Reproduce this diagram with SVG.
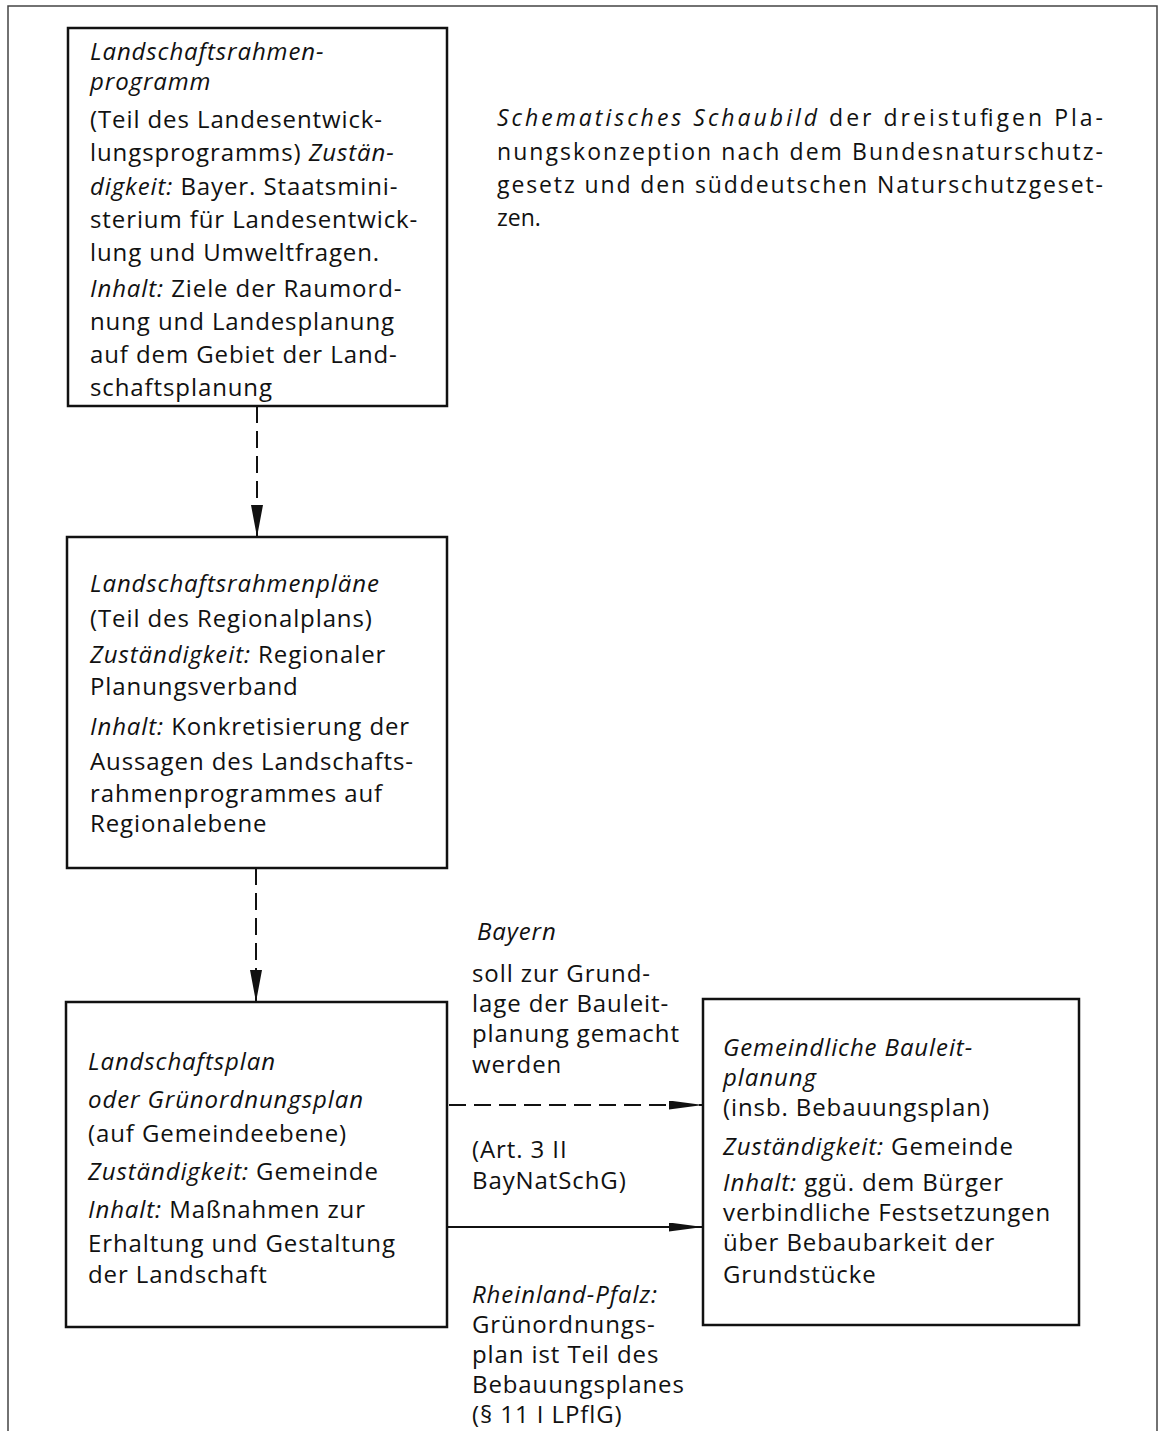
<svg xmlns="http://www.w3.org/2000/svg" width="1167" height="1431" viewBox="0 0 1167 1431">
<style>
.t{font-family:"Open Sans","Liberation Sans",sans-serif;font-size:24px;font-weight:500;letter-spacing:0.9px;fill:#111}
.i{font-style:italic}
.c{font-family:"Open Sans","Liberation Sans",sans-serif;font-size:23px;font-weight:500;fill:#111}
.box{fill:#fff;stroke:#111;stroke-width:2.5}
.frame{fill:none;stroke:#444;stroke-width:1.5}
.dash{fill:none;stroke:#111;stroke-width:2;stroke-dasharray:17 8}
.solid{fill:none;stroke:#111;stroke-width:2}
</style>
<defs>
<marker id="av" viewBox="0 0 32 12" refX="32" refY="6" markerWidth="32" markerHeight="12" markerUnits="userSpaceOnUse" orient="auto">
<path d="M0,0 L32,6 L0,12 z" fill="#111"/>
</marker>
<marker id="ah" viewBox="0 0 34 9" refX="34" refY="4.5" markerWidth="34" markerHeight="9" markerUnits="userSpaceOnUse" orient="auto">
<path d="M0,0 L34,4.5 L0,9 z" fill="#111"/>
</marker>
</defs>
<rect width="1167" height="1431" fill="#fff"/>
<path class="frame" d="M8,1431 V6 H1157 V1431"/>

<g id="connectors">
<path class="dash" d="M257,406 V537" marker-end="url(#av)"/>
<path class="dash" d="M256,868 V1002" marker-end="url(#av)"/>
<path class="dash" d="M449,1105 H703" marker-end="url(#ah)"/>
<path class="solid" d="M447,1227 H703" marker-end="url(#ah)"/>
</g>

<g id="caption">
<text class="c" x="497" y="126" textLength="606" lengthAdjust="spacing"><tspan class="i">Schematisches Schaubild</tspan> der dreistufigen Pla-</text>
<text class="c" x="497" y="160" textLength="606" lengthAdjust="spacing">nungskonzeption nach dem Bundesnaturschutz-</text>
<text class="c" x="497" y="193" textLength="606" lengthAdjust="spacing">gesetz und den süddeutschen Naturschutzgeset-</text>
<text class="c" x="497" y="226">zen.</text>
</g>

<g id="node-landschaftsrahmenprogramm">
<rect class="box" x="68" y="28" width="379" height="378"/>
<text class="t i" x="90" y="60">Landschaftsrahmen-</text>
<text class="t i" x="90" y="90">programm</text>
<text class="t" x="90" y="128">(Teil des Landesentwick-</text>
<text class="t" x="90" y="161">lungsprogramms) <tspan class="i">Zustän-</tspan></text>
<text class="t" x="90" y="195"><tspan class="i">digkeit:</tspan> Bayer. Staatsmini-</text>
<text class="t" x="90" y="228">sterium für Landesentwick-</text>
<text class="t" x="90" y="261">lung und Umweltfragen.</text>
<text class="t" x="90" y="297"><tspan class="i">Inhalt:</tspan> Ziele der Raumord-</text>
<text class="t" x="90" y="330">nung und Landesplanung</text>
<text class="t" x="90" y="363">auf dem Gebiet der Land-</text>
<text class="t" x="90" y="396">schaftsplanung</text>
</g>

<g id="node-landschaftsrahmenplaene">
<rect class="box" x="67" y="537" width="380" height="331"/>
<text class="t i" x="90" y="592">Landschaftsrahmenpläne</text>
<text class="t" x="90" y="627">(Teil des Regionalplans)</text>
<text class="t" x="90" y="663"><tspan class="i">Zuständigkeit:</tspan> Regionaler</text>
<text class="t" x="90" y="695">Planungsverband</text>
<text class="t" x="90" y="735"><tspan class="i">Inhalt:</tspan> Konkretisierung der</text>
<text class="t" x="90" y="770">Aussagen des Landschafts-</text>
<text class="t" x="90" y="802">rahmenprogrammes auf</text>
<text class="t" x="90" y="832">Regionalebene</text>
</g>

<g id="node-landschaftsplan">
<rect class="box" x="66" y="1002" width="381" height="325"/>
<text class="t i" x="88" y="1070">Landschaftsplan</text>
<text class="t i" x="88" y="1108">oder Grünordnungsplan</text>
<text class="t" x="88" y="1142">(auf Gemeindeebene)</text>
<text class="t" x="88" y="1180"><tspan class="i">Zuständigkeit:</tspan> Gemeinde</text>
<text class="t" x="88" y="1218"><tspan class="i">Inhalt:</tspan> Maßnahmen zur</text>
<text class="t" x="88" y="1252">Erhaltung und Gestaltung</text>
<text class="t" x="88" y="1283">der Landschaft</text>
</g>

<g id="node-bauleitplanung">
<rect class="box" x="703" y="999" width="376" height="326"/>
<text class="t i" x="723" y="1056">Gemeindliche Bauleit-</text>
<text class="t i" x="723" y="1086">planung</text>
<text class="t" x="723" y="1116">(insb. Bebauungsplan)</text>
<text class="t" x="723" y="1155"><tspan class="i">Zuständigkeit:</tspan> Gemeinde</text>
<text class="t" x="723" y="1191"><tspan class="i">Inhalt:</tspan> ggü. dem Bürger</text>
<text class="t" x="723" y="1221">verbindliche Festsetzungen</text>
<text class="t" x="723" y="1251">über Bebaubarkeit der</text>
<text class="t" x="723" y="1283">Grundstücke</text>
</g>

<g id="label-bayern">
<text class="t i" x="477" y="940">Bayern</text>
<text class="t" x="472" y="982">soll zur Grund-</text>
<text class="t" x="472" y="1012">lage der Bauleit-</text>
<text class="t" x="472" y="1042">planung gemacht</text>
<text class="t" x="472" y="1073">werden</text>
<text class="t" x="472" y="1158">(Art. 3 II</text>
<text class="t" x="472" y="1189">BayNatSchG)</text>
</g>

<g id="label-rheinland-pfalz">
<text class="t i" x="472" y="1303">Rheinland-Pfalz:</text>
<text class="t" x="472" y="1333">Grünordnungs-</text>
<text class="t" x="472" y="1363">plan ist Teil des</text>
<text class="t" x="472" y="1393">Bebauungsplanes</text>
<text class="t" x="472" y="1423">(§ 11 I LPflG)</text>
</g>
</svg>
